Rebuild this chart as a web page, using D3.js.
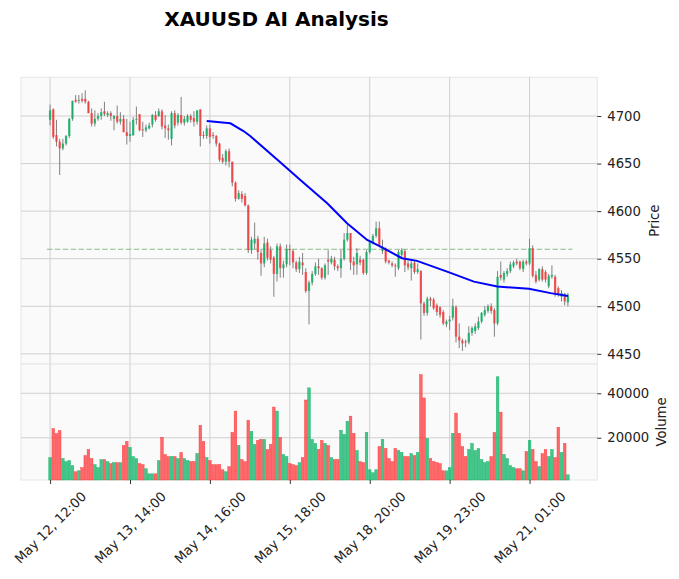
<!DOCTYPE html>
<html><head><meta charset="utf-8">
<script src="https://cdn.jsdelivr.net/npm/d3@7"></script>
<style>body{margin:0;background:#fff;} text{font-family:"DejaVu Sans",sans-serif;}</style>
</head><body><svg id="c" width="679" height="579"></svg>
<script>
// ---- data ----
const opens=[4696,4707,4680,4673,4666,4671,4679,4697,4717,4716,4718,4718,4715,4703,4692,4697,4700,4705,4701,4703,4697,4700,4694,4697,4683,4679,4680,4696,4702,4686,4685,4687,4691,4701,4700,4705,4690,4687,4676,4703,4693,4701,4693,4694,4700,4698,4694,4707,4680,4679,4687,4680,4679,4671,4656,4652,4663,4652,4630,4613,4618,4616,4606,4559,4566,4571,4556,4545,4567,4559,4551,4534,4563,4540,4544,4560,4558,4546,4539,4546,4536,4516,4525,4534,4542,4540,4530,4549,4546,4549,4542,4540,4550,4570,4577,4547,4544,4549,4549,4535,4557,4567,4574,4582,4558,4561,4548,4545,4543,4540,4554,4558,4545,4540,4546,4536,4537,4503,4493,4508,4507,4501,4499,4494,4481,4484,4488,4499,4468,4464,4463,4462,4472,4474,4477,4484,4491,4495,4500,4496,4482,4533,4528,4534,4537,4542,4547,4547,4539,4547,4545,4561,4533,4528,4539,4536,4521,4531,4531,4519,4510,4513,4504];
const highs=[4712,4708,4696,4676,4676,4680,4698,4716,4722,4722,4724,4727,4716,4708,4706,4703,4708,4715,4705,4705,4701,4711,4704,4701,4697,4694,4699,4710,4702,4694,4691,4693,4702,4705,4708,4707,4701,4691,4705,4706,4703,4720,4700,4702,4702,4705,4706,4707,4684,4690,4691,4683,4680,4672,4660,4665,4666,4652,4631,4622,4621,4619,4607,4573,4588,4574,4559,4573,4571,4563,4553,4566,4566,4548,4565,4565,4560,4548,4552,4556,4540,4527,4537,4546,4550,4541,4545,4559,4553,4552,4544,4559,4577,4586,4577,4552,4561,4553,4550,4559,4569,4576,4589,4589,4570,4562,4549,4547,4545,4559,4561,4560,4548,4549,4548,4545,4538,4505,4510,4510,4509,4503,4500,4496,4486,4490,4508,4501,4482,4466,4465,4479,4479,4482,4489,4494,4500,4502,4503,4498,4537,4547,4537,4540,4547,4548,4550,4548,4549,4549,4571,4564,4537,4540,4542,4538,4534,4543,4533,4521,4517,4514,4514];
const lows=[4690,4676,4668,4638,4664,4669,4677,4695,4714,4713,4714,4713,4703,4689,4689,4695,4696,4700,4699,4695,4685,4692,4691,4683,4670,4673,4679,4691,4684,4678,4683,4686,4688,4694,4699,4686,4677,4675,4669,4687,4690,4691,4690,4693,4693,4689,4691,4668,4676,4676,4671,4676,4668,4652,4650,4648,4646,4626,4610,4612,4609,4605,4556,4555,4560,4549,4532,4541,4548,4545,4510,4526,4530,4530,4541,4543,4540,4536,4535,4533,4514,4481,4522,4532,4533,4528,4528,4533,4544,4538,4537,4530,4548,4568,4538,4533,4533,4543,4533,4533,4555,4565,4572,4562,4555,4545,4544,4541,4531,4538,4551,4536,4538,4527,4534,4534,4465,4490,4490,4500,4496,4490,4488,4480,4478,4475,4485,4462,4456,4453,4457,4460,4469,4471,4475,4482,4489,4493,4492,4468,4480,4527,4525,4531,4535,4540,4543,4538,4536,4543,4543,4530,4524,4526,4526,4525,4519,4529,4510,4510,4505,4501,4500];
const closes=[4706,4678,4673,4666,4671,4679,4697,4716,4715,4717,4716,4715,4703,4692,4697,4700,4704,4702,4703,4700,4700,4694,4697,4683,4679,4681,4696,4697,4685,4685,4688,4690,4701,4696,4705,4689,4687,4685,4703,4690,4701,4693,4697,4700,4696,4694,4706,4679,4679,4687,4678,4679,4671,4654,4652,4663,4652,4630,4613,4619,4613,4606,4559,4570,4571,4557,4545,4566,4551,4549,4534,4563,4540,4544,4560,4559,4546,4539,4547,4543,4516,4525,4534,4542,4540,4530,4543,4547,4550,4542,4540,4550,4570,4577,4546,4543,4556,4546,4535,4557,4567,4574,4582,4564,4562,4547,4546,4543,4542,4557,4559,4543,4541,4545,4536,4539,4503,4493,4508,4506,4498,4494,4491,4482,4484,4486,4500,4468,4464,4461,4462,4472,4477,4479,4484,4493,4496,4500,4495,4482,4531,4530,4535,4537,4544,4546,4545,4540,4547,4545,4561,4532,4526,4539,4528,4528,4532,4533,4514,4512,4514,4505,4512];
const volumes=[11060,24090,21820,23180,10610,9250,9700,7430,4700,5150,6520,11970,14700,10610,7880,6520,10150,10150,9250,8340,8790,8790,8790,16520,18340,15610,11520,10610,8340,7880,6060,3790,3790,3790,9700,20160,12430,11520,11520,11520,10610,13340,10610,9700,9250,9250,12880,25610,18340,11060,9700,7880,7880,7880,5610,4700,6970,22430,31970,16520,10150,9250,27880,22880,16970,18790,19250,19250,14700,16970,33790,31970,20160,12430,11520,8340,7880,7430,8790,11060,36970,42420,19250,17430,14700,18790,17430,16520,11060,10150,10150,23330,21520,27430,29700,21970,14250,9250,8790,22430,5610,4250,5610,16060,19250,15150,10610,9250,15150,14250,13340,11520,11520,12880,11970,13340,48330,37880,19700,10610,9250,8790,8340,5150,5150,6520,21970,31060,21970,16060,11520,14700,17430,14250,15150,10150,8790,9250,11520,22430,47420,31520,12430,10610,7430,6520,6060,6060,5150,13790,18790,14700,9250,6970,12880,14700,11520,14700,11060,24700,13340,17430,3340];
const maIdx=[49,56.4,60.5,62.6,72,78.3,86.7,92.9,99.2,103.4,110.1,114.8,124.2,132.6,139.9,149.8,156.6,162];
const maVal=[4694.7,4692.3,4684.2,4679.0,4651.4,4632.8,4608.3,4587.3,4569.7,4562.7,4550.5,4547.7,4536.4,4525.9,4520.7,4518.3,4513.8,4510.9];
const hlinePrice=4560;
const hlineSpan=[-1,163.4];
const xTickIdx=[0,25,50,75,100,125,150];
const xTickLabels=["May 12, 12:00","May 13, 14:00","May 14, 16:00","May 15, 18:00","May 18, 20:00","May 19, 23:00","May 21, 01:00"];
const priceTicks=[4450,4500,4550,4600,4650,4700];
const volTicks=[20000,40000];
const title="XAUUSD AI Analysis";

// ---- layout ----
const L=21,R=597.3,PT=77.3,PB=364,VB=480;
const UP="#00b060",DN="#fe3032";
const svg=d3.select("#c");
const n=closes.length;
const x=d3.scaleLinear().domain([-9.1,171.2]).range([L,R]);
const pmin=d3.min(lows),pmax=d3.max(highs),pr=pmax-pmin;
const y=d3.scaleLinear().domain([pmin-0.05*pr,pmax+0.05*pr]).range([PB,PT]);
const yv=d3.scaleLinear().domain([0.3*d3.min(volumes),1.1*d3.max(volumes)]).range([VB,PB]);
const step=x(1)-x(0);

svg.append("rect").attr("x",L).attr("y",PT).attr("width",R-L).attr("height",PB-PT).attr("fill","#fafafa").attr("stroke","#e6e6e6");
svg.append("rect").attr("x",L).attr("y",PB).attr("width",R-L).attr("height",VB-PB).attr("fill","#fafafa").attr("stroke","#e6e6e6");

const grid=svg.append("g").attr("stroke","#d0d0d0").attr("stroke-width",1);
xTickIdx.forEach(i=>{grid.append("line").attr("x1",x(i)).attr("x2",x(i)).attr("y1",PT).attr("y2",VB);});
priceTicks.forEach(p=>{grid.append("line").attr("x1",L).attr("x2",R).attr("y1",y(p)).attr("y2",y(p));});
volTicks.forEach(v=>{grid.append("line").attr("x1",L).attr("x2",R).attr("y1",yv(v)).attr("y2",yv(v));});

// horizontal dashed level
svg.append("line").attr("x1",x(hlineSpan[0])).attr("x2",x(hlineSpan[1])).attr("y1",y(hlinePrice)).attr("y2",y(hlinePrice))
  .attr("stroke","#5a9e5a").attr("stroke-opacity",0.7).attr("stroke-width",1.1).attr("stroke-dasharray","5.5,2.4");

const idx=d3.range(n);
// wicks
svg.append("g").selectAll("line").data(idx).join("line")
  .attr("x1",i=>x(i)).attr("x2",i=>x(i)).attr("y1",i=>y(highs[i])).attr("y2",i=>y(lows[i]))
  .attr("stroke","#808080").attr("stroke-width",1);
// bodies
const bw=step*0.72;
svg.append("g").selectAll("rect").data(idx).join("rect")
  .attr("x",i=>x(i)-bw/2).attr("width",bw)
  .attr("y",i=>y(Math.max(opens[i],closes[i])))
  .attr("height",i=>Math.max(1,Math.abs(y(opens[i])-y(closes[i]))))
  .attr("fill",i=>closes[i]>=opens[i]?UP:DN).attr("fill-opacity",0.75);
// volume bars
const vw=step*0.82;
svg.append("g").selectAll("rect").data(idx).join("rect")
  .attr("x",i=>x(i)-vw/2).attr("width",vw)
  .attr("y",i=>yv(volumes[i])).attr("height",i=>VB-yv(volumes[i]))
  .attr("fill",i=>closes[i]>=opens[i]?UP:DN).attr("fill-opacity",0.72)
  .attr("stroke",i=>closes[i]>=opens[i]?UP:DN).attr("stroke-opacity",0.85).attr("stroke-width",0.5);
// moving average
svg.append("path").datum(d3.range(maIdx.length))
  .attr("d",d3.line().x(k=>x(maIdx[k])).y(k=>y(maVal[k])))
  .attr("fill","none").attr("stroke","#0000ff").attr("stroke-width",2);

// axes
const fs="13.2px";
const ay=svg.append("g").attr("transform",`translate(${R},0)`).call(d3.axisRight(y).tickValues(priceTicks).tickSize(4).tickPadding(6).tickFormat(d3.format("d")));
const av=svg.append("g").attr("transform",`translate(${R},0)`).call(d3.axisRight(yv).tickValues(volTicks).tickSize(4).tickPadding(6).tickFormat(d3.format("d")));
const ax=svg.append("g").attr("transform",`translate(0,${VB})`).call(d3.axisBottom(x).tickValues(xTickIdx).tickSize(4).tickFormat((d,k)=>xTickLabels[k]));
[ay,av,ax].forEach(a=>{a.select(".domain").remove();a.selectAll("line").attr("stroke","#333");a.selectAll("text").attr("font-size",fs).attr("fill","#222").attr("font-family","DejaVu Sans");});
ax.selectAll("text").attr("y",0).attr("dy",0).attr("text-anchor","middle").attr("transform","translate(3.1,50.8) rotate(-45)");

svg.append("text").attr("transform",`translate(659,${(PT+PB)/2}) rotate(-90)`).attr("text-anchor","middle").attr("font-size",fs).attr("fill","#222").text("Price");
svg.append("text").attr("transform",`translate(666,${(PB+VB)/2}) rotate(-90)`).attr("text-anchor","middle").attr("font-size",fs).attr("fill","#222").text("Volume");
svg.append("text").attr("x",276.5).attr("y",25.8).attr("text-anchor","middle").attr("font-size","20px").attr("font-weight","bold").attr("fill","#000").text(title);
</script></body></html>
